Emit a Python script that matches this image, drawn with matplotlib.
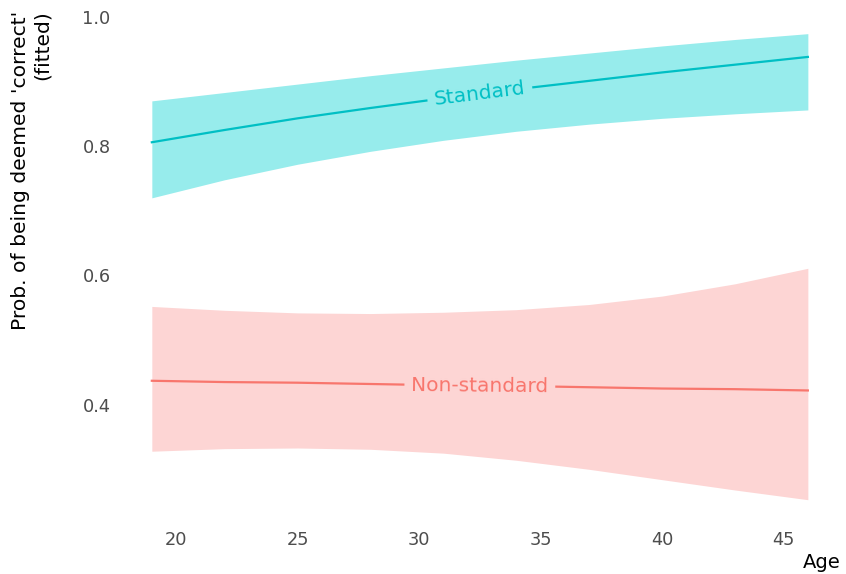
import numpy as np
import matplotlib
matplotlib.use("Agg")
import matplotlib.pyplot as plt

# fitted probabilities with confidence bands, by age
age = [19, 22, 25, 28, 31, 34, 37, 40, 43, 46]

std_fit = [0.806, 0.825, 0.843, 0.859, 0.874, 0.888, 0.901, 0.914, 0.926, 0.938]
std_hi = [0.870, 0.883, 0.896, 0.909, 0.921, 0.933, 0.944, 0.955, 0.965, 0.974]
std_lo = [0.720, 0.748, 0.772, 0.792, 0.809, 0.823, 0.834, 0.843, 0.850, 0.856]

non_fit = [0.437, 0.435, 0.434, 0.432, 0.430, 0.429, 0.427, 0.425, 0.424, 0.422]
non_hi = [0.552, 0.546, 0.542, 0.541, 0.543, 0.547, 0.555, 0.568, 0.587, 0.611]
non_lo = [0.328, 0.332, 0.333, 0.331, 0.325, 0.314, 0.300, 0.284, 0.268, 0.253]

groups = [
    ("Standard", std_fit, std_lo, std_hi, "#00BFC4", "#97ECEC"),
    ("Non-standard", non_fit, non_lo, non_hi, "#F8766D", "#FDD5D4"),
]
label_age = 32.5

fig = plt.figure(figsize=(8.46, 5.74), dpi=100)
ax = fig.add_axes([0.1407, 0.0889, 0.853, 0.893])

for name, fit, lo, hi, col, fill in groups:
    ax.fill_between(age, lo, hi, color=fill, lw=0)
    ax.plot(age, fit, color=col, lw=1.6)

ax.set_xlim(17.65, 47.35)
ax.set_ylim(0.217, 1.010)
ax.set_xticks([20, 25, 30, 35, 40, 45])
ax.set_yticks([0.4, 0.6, 0.8, 1.0])
ax.set_yticklabels(["0.4", "0.6", "0.8", "1.0"])
ax.tick_params(length=0, labelsize=12.8, labelcolor="#4D4D4D", pad=6)
for s in ax.spines.values():
    s.set_visible(False)

ax.set_xlabel("Age", fontsize=14, loc="right", labelpad=3)
ax.set_ylabel("Prob. of being deemed 'correct'\n(fitted)", fontsize=14.6,
              loc="top", labelpad=22)

# inline labels along each fitted curve
fig.canvas.draw()
for name, fit, lo, hi, col, fill in groups:
    y0 = np.interp(label_age, age, fit)
    p1 = ax.transData.transform((label_age - 1, np.interp(label_age - 1, age, fit)))
    p2 = ax.transData.transform((label_age + 1, np.interp(label_age + 1, age, fit)))
    ang = np.degrees(np.arctan2(p2[1] - p1[1], p2[0] - p1[0]))
    ax.text(label_age, y0, name, color=col, fontsize=14.5, rotation=ang,
            rotation_mode="anchor", ha="center", va="center",
            bbox=dict(facecolor=fill, edgecolor="none", pad=5))

fig.savefig("out.png", dpi=100)
